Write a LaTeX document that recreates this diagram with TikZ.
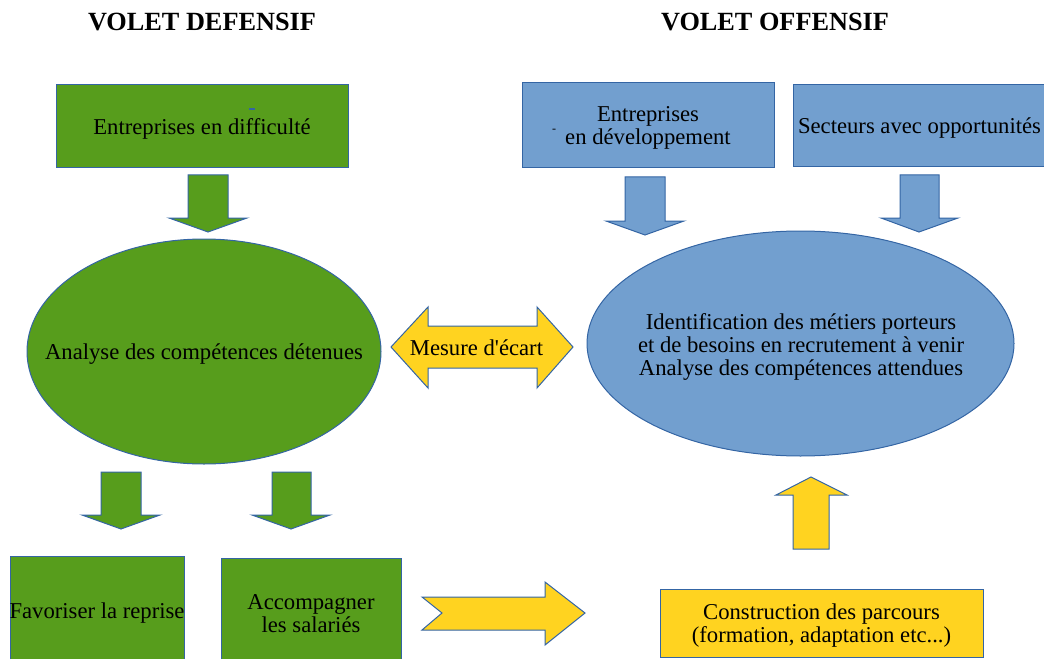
\documentclass[tikz,border=0pt]{standalone}
\usepackage{fontspec}
\setmainfont{Liberation Serif}[Ligatures=TeXOff]
\usetikzlibrary{shapes.geometric}
\definecolor{gfill}{HTML}{579D1C}
\definecolor{bfill}{HTML}{729FCF}
\definecolor{yfill}{HTML}{FFD320}
\definecolor{edge}{HTML}{3465A4}
\begin{document}
\begin{tikzpicture}[x=0.75pt,y=-0.75pt,
  every node/.style={font=\fontsize{17}{17.25}\selectfont, text=black, align=center, inner sep=0pt, text depth=0pt},
  frame/.style={draw=edge, line width=0.75pt},
  greenbox/.style={frame, fill=gfill, rectangle},
  bluebox/.style={frame, fill=bfill, rectangle},
  yellowbox/.style={frame, fill=yfill, rectangle},
  oval/.style={frame, ellipse, minimum height=168.75pt},
  heading/.style={font=\bfseries\fontsize{19.7}{22}\selectfont, anchor=base},
  blockarrow/.style={draw=edge, line width=0.75pt, line join=miter}
]
\useasboundingbox (0,0) rectangle (1044,659);

% headings
\node[heading] (hdef) at (202,31) {VOLET DEFENSIF};
\node[heading] (hoff) at (775,31) {VOLET OFFENSIF};

% top boxes
\node[greenbox, minimum width=219pt, minimum height=62.25pt] (diff) at (202,126.5) {Entreprises en difficulté};
\draw[edge, line width=1.2pt] (249,109) -- (255,109);
\node[bluebox, minimum width=189pt, minimum height=63.75pt] (dev) at (648,125.5) {Entreprises\\ en développement};
\node[font=\fontsize{9}{9}\selectfont] (devdash) at (554,131) {-};
\node[bluebox, minimum width=189.75pt, minimum height=61.5pt] (sect) at (919.5,126) {Secteurs avec opportunités};

% down arrows below the top boxes
\fill[gfill, blockarrow] (188,175) -- (228,175) -- (228,218) -- (247,218) -- (208,232) -- (169,218) -- (188,218) -- cycle;
\fill[bfill, blockarrow] (625,177) -- (665,177) -- (665,221) -- (684,221) -- (645,235) -- (606,221) -- (625,221) -- cycle;
\fill[bfill, blockarrow] (900,175) -- (939,175) -- (939,218) -- (958,218) -- (919,232) -- (881,218) -- (900,218) -- cycle;

% ellipses
\node[oval, fill=gfill, minimum width=265.5pt] (held) at (204,351.5) {};
\node (heldtxt) at (204,352) {Analyse des compétences détenues};
\node[oval, fill=bfill, minimum width=320.25pt] (need) at (800.5,343.5) {};
\node (needtxt) at (801,345) {Identification des métiers porteurs\\ et de besoins en recrutement à venir\\ Analyse des compétences attendues};

% gap measure: double block arrow
\fill[yfill, blockarrow] (391,347) -- (428,307) -- (428,326) -- (537,326) -- (537,307) -- (573,347) -- (537,388) -- (537,368) -- (428,368) -- (428,388) -- cycle;
\node (gap) at (476.5,348) {Mesure d'écart};

% down arrows below the left ellipse
\fill[gfill, blockarrow] (101,472) -- (141,472) -- (141,515) -- (160,515) -- (121,529) -- (82,515) -- (101,515) -- cycle;
\fill[gfill, blockarrow] (272,472) -- (311,472) -- (311,515) -- (330,515) -- (291,529) -- (252,515) -- (272,515) -- cycle;

% bottom left boxes
\node[greenbox, minimum width=130.5pt, minimum height=82.5pt] (resume) at (97,611) {};
\node (resumetxt) at (97,611) {Favoriser la reprise};
\node[greenbox, minimum width=135pt, minimum height=84pt] (staff) at (311,614) {Accompagner\\ les salariés};

% right block arrow toward the pathways box
\fill[yfill, blockarrow] (422,597) -- (545,597) -- (545,582) -- (585,613) -- (545,645) -- (545,630) -- (422,630) -- (442,613) -- cycle;

% pathways box and upward arrow
\node[yellowbox, minimum width=242.25pt, minimum height=51pt] (path) at (821.5,623) {Construction des parcours\\ (formation, adaptation etc...)};
\fill[yfill, blockarrow] (793,549) -- (793,495) -- (776,495) -- (811,477) -- (847,495) -- (829,495) -- (829,549) -- cycle;
\end{tikzpicture}
\end{document}
